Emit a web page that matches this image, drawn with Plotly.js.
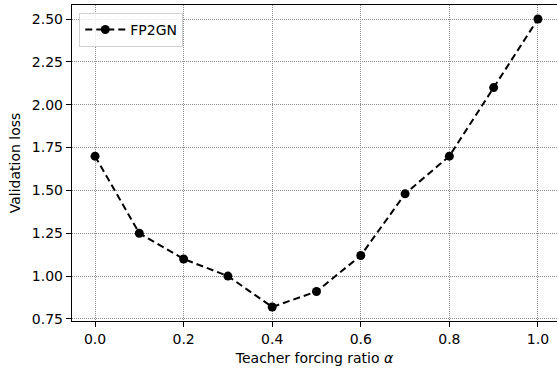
<!DOCTYPE html>
<html>
<head>
<meta charset="utf-8">
<script src="https://cdn.plot.ly/plotly-3.0.1.min.js"></script>
<style>html,body{margin:0;padding:0;background:#fff;}#chart{width:557px;height:369px;}</style>
</head>
<body>
<div id="chart"></div>
<script>
const ratios = [0.0, 0.1, 0.2, 0.3, 0.4, 0.5, 0.6, 0.7, 0.8, 0.9, 1.0];
const valLoss = [1.70, 1.25, 1.10, 1.00, 0.82, 0.91, 1.12, 1.48, 1.70, 2.10, 2.50];
const xTicks = [0.0, 0.2, 0.4, 0.6, 0.8, 1.0];
const xTickText = ["0.0", "0.2", "0.4", "0.6", "0.8", "1.0"];
const yTicks = [0.75, 1.00, 1.25, 1.50, 1.75, 2.00, 2.25, 2.50];
const yTickText = ["0.75", "1.00", "1.25", "1.50", "1.75", "2.00", "2.25", "2.50"];

const font = {family: "DejaVu Sans", size: 14, color: "#000"};
const trace = {
  x: ratios, y: valLoss, type: "scatter", mode: "lines+markers", name: "FP2GN",
  line: {color: "#000", width: 2, dash: "7px,4px"},
  marker: {color: "#000", size: 9}
};
const layout = {
  width: 557, height: 369,
  margin: {l: 72, r: 0, t: 5, b: 48},
  paper_bgcolor: "#fff", plot_bgcolor: "#fff",
  font: font,
  showlegend: true,
  legend: {x: 0.015, y: 0.975, xanchor: "left", yanchor: "top",
    bgcolor: "rgba(255,255,255,0.8)", bordercolor: "#d0d0d0", borderwidth: 1,
    itemwidth: 40,
    font: {family: "DejaVu Sans", size: 14, color: "#000"}},
  xaxis: {
    range: [-0.052, 1.043], tickvals: xTicks, ticktext: xTickText,
    ticks: "outside", ticklen: 5, tickcolor: "#000", tickwidth: 1,
    showline: true, linecolor: "#000", linewidth: 1.2, mirror: true,
    showgrid: true, gridcolor: "#8a8a8a", griddash: "1px,1px", gridwidth: 1,
    zeroline: false,
    title: {text: "Teacher forcing ratio <i>α</i>", font: font, standoff: 7}
  },
  yaxis: {
    range: [0.738, 2.582], tickvals: yTicks, ticktext: yTickText,
    ticks: "outside", ticklen: 5, tickcolor: "#000", tickwidth: 1,
    showline: true, linecolor: "#000", linewidth: 1.2, mirror: false,
    showgrid: true, gridcolor: "#8a8a8a", griddash: "1px,1px", gridwidth: 1,
    zeroline: false,
    title: {text: "Validation loss", font: font, standoff: 8}
  }
};
Plotly.newPlot("chart", [trace], layout, {displayModeBar: false, staticPlot: true});
</script>
</body>
</html>
